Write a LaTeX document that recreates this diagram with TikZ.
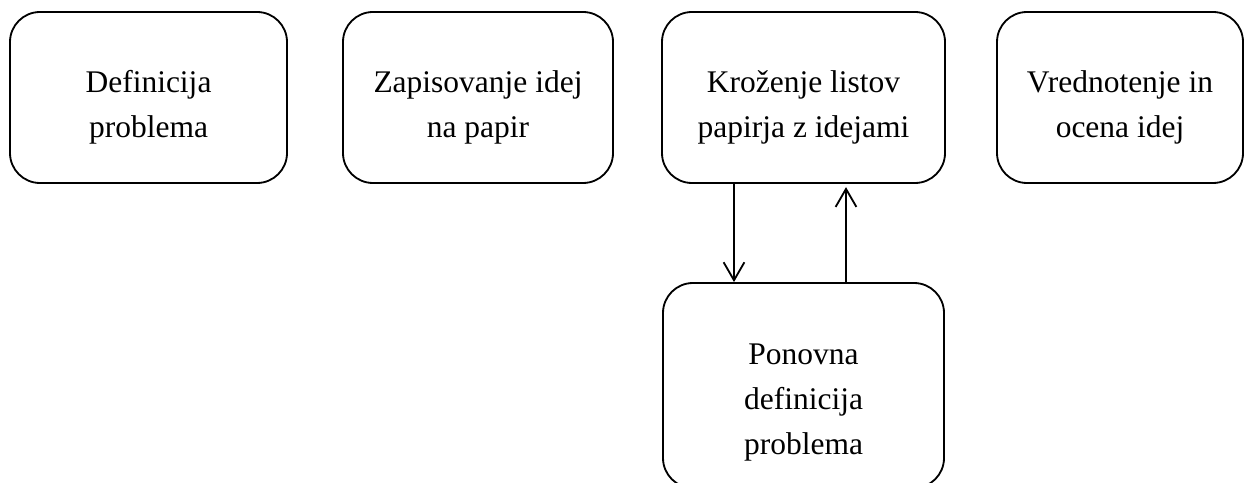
\documentclass[tikz,border=0pt]{standalone}
\usepackage{fontspec}
\setmainfont{Liberation Serif}
\usetikzlibrary{arrows.meta}

% prazen prostor nad prvo vrstico (besedilo nizje v okvirju)
\newcommand{\zamik}[1]{\rule{0pt}{#1}}

\begin{document}
\begin{tikzpicture}[
                korak/.style={draw, line width=1.3pt, rounded corners=0.75cm, align=center,
                    minimum height=4.275cm, inner sep=0pt,
                    font=\fontsize{22.4}{32}\selectfont},
                puscica/.style={line width=1.3pt, arrows={-Straight Barb[length=4.5mm, width=5.2mm]}}
            ]
                \useasboundingbox (0,0) rectangle (31.325,-12.075);

                % zgornja vrsta
                \node[korak, minimum width=6.925cm] (definicija) at (3.7125,-2.4375) {\zamik{29pt}Definicija\\problema};
                \node[korak, minimum width=6.75cm] (zapisovanje) at (11.95,-2.4375) {\zamik{29pt}Zapisovanje idej\\na papir};
                \node[korak, minimum width=7.075cm] (krozenje) at (20.0875,-2.4375) {\zamik{29pt}Kroženje listov\\papirja z idejami};
                \node[korak, minimum width=6.15cm] (vrednotenje) at (28.0,-2.4375) {\zamik{29pt}Vrednotenje in\\ocena idej};

                % spodaj (rob odrezan)
                \node[korak, minimum width=7.025cm, minimum height=5.125cm] (ponovna) at (20.0875,-9.6375)
                    {\zamik{38.7pt}Ponovna\\definicija\\problema};

                \draw[puscica] ([xshift=-1.7375cm]krozenje.south) -- ([xshift=-1.7375cm]ponovna.north);
                \draw[puscica] ([xshift=1.0625cm]ponovna.north) -- ([xshift=1.0625cm,yshift=-0.08cm]krozenje.south);
            \end{tikzpicture}
\end{document}
